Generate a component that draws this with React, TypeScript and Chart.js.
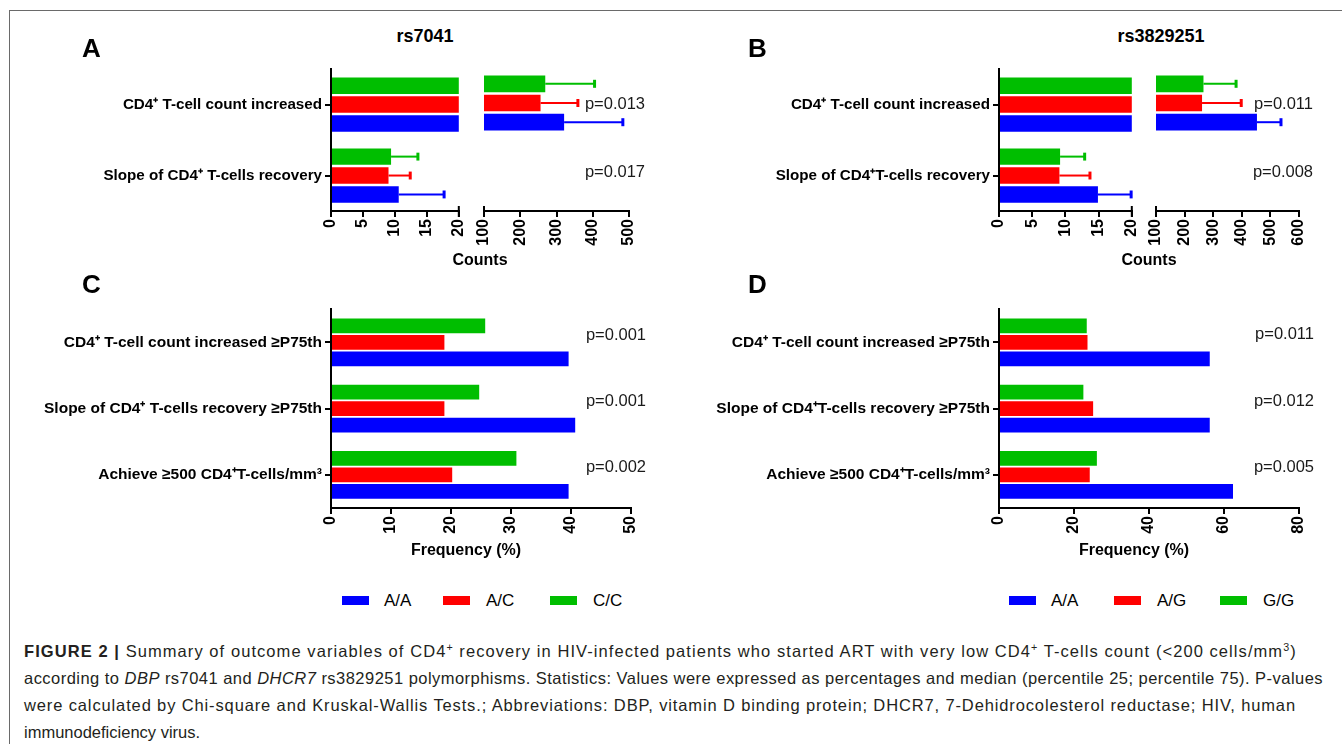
import React, { useEffect, useLayoutEffect, useRef } from 'react';
import { Chart, registerables } from 'chart.js';
Chart.register(...registerables);

const FONT = 'Arial, "Liberation Sans", Helvetica, sans-serif';
const BLUE = '#0000FF';
const RED = '#FF0000';
const GREEN = '#00BE00';

// ---------- Panel A: rs7041 (median, percentile 75) ----------
const catsA = ['CD4⁺ T-cell count increased', 'Slope of CD4⁺ T-cells recovery'];
const rs7041_AA_median = [321, 10.6];
const rs7041_AA_p75 = [483, 17.7];
const rs7041_AC_median = [256, 9.0];
const rs7041_AC_p75 = [359, 12.4];
const rs7041_CC_median = [269, 9.4];
const rs7041_CC_p75 = [405, 13.6];
const pValuesA = ['p=0.013', 'p=0.017'];

// ---------- Panel B: rs3829251 (median, percentile 75) ----------
const catsB = ['CD4⁺ T-cell count increased', 'Slope of CD4⁺T-cells recovery'];
const rs3829251_AA_median = [453, 14.9];
const rs3829251_AA_p75 = [537, 19.9];
const rs3829251_AG_median = [261, 9.1];
const rs3829251_AG_p75 = [398, 13.7];
const rs3829251_GG_median = [266, 9.2];
const rs3829251_GG_p75 = [380, 12.9];
const pValuesB = ['p=0.011', 'p=0.008'];

// ---------- Panel C: rs7041 frequencies (%) ----------
const catsC = ['CD4⁺ T-cell count increased ≥P75th', 'Slope of CD4⁺ T-cells recovery ≥P75th', 'Achieve ≥500 CD4⁺T-cells/mm³'];
const freqC_AA = [39.6, 40.7, 39.6];
const freqC_AC = [18.9, 18.9, 20.2];
const freqC_CC = [25.7, 24.7, 30.9];
const pValuesC = ['p=0.001', 'p=0.001', 'p=0.002'];

// ---------- Panel D: rs3829251 frequencies (%) ----------
const catsD = ['CD4⁺ T-cell count increased ≥P75th', 'Slope of CD4⁺T-cells recovery ≥P75th', 'Achieve ≥500 CD4⁺T-cells/mm³'];
const freqD_AA = [56.2, 56.2, 62.4];
const freqD_AG = [23.6, 25.1, 24.2];
const freqD_GG = [23.4, 22.5, 26.1];
const pValuesD = ['p=0.011', 'p=0.012', 'p=0.005'];

// ---------- Tick values ----------
const countTicksLow = [0, 5, 10, 15, 20];
const countTicksHighA = [100, 200, 300, 400, 500];
const countTicksHighB = [100, 200, 300, 400, 500, 600];
const freqTicksC = [0, 10, 20, 30, 40, 50];
const freqTicksD = [0, 20, 40, 60, 80];

const legendA = ['A/A', 'A/C', 'C/C'];
const legendB = ['A/A', 'A/G', 'G/G'];

type Series = { label: string; data: number[]; p75?: number[]; color: string };
type Spec = {
  x: number; y: number; w: number; h: number;
  pad: { left: number; top: number; right: number; bottom: number };
  yWidth: number; showY: boolean; labelSize: number;
  labels: string[]; series: Series[];
  xMin: number; xMax: number; xTicks: number[];
  catPct: number; barPct: number;
  pvals?: string[]; pOff?: number[]; pDx?: number;
  capLeft?: boolean; capRight?: boolean;
};

const errorBars = {
  id: 'errorBars',
  afterDatasetsDraw(chart: any) {
    const ctx = chart.ctx;
    const xs = chart.scales.x;
    const area = chart.chartArea;
    chart.data.datasets.forEach((ds: any, di: number) => {
      if (!ds.p75) return;
      const meta = chart.getDatasetMeta(di);
      ds.data.forEach((v: number, i: number) => {
        const hi = ds.p75[i];
        if (v < xs.min || hi > xs.max) return;
        const bar = meta.data[i];
        const x0 = xs.getPixelForValue(v);
        const x1 = xs.getPixelForValue(hi);
        const y = bar.y;
        const h = bar.height;
        ctx.save();
        ctx.strokeStyle = ds.backgroundColor;
        ctx.lineWidth = 2;
        ctx.beginPath();
        ctx.moveTo(Math.max(x0, area.left), y);
        ctx.lineTo(x1, y);
        ctx.stroke();
        ctx.lineWidth = 3;
        ctx.beginPath();
        ctx.moveTo(x1, y - h * 0.24);
        ctx.lineTo(x1, y + h * 0.24);
        ctx.stroke();
        ctx.restore();
      });
    });
  },
};

function makeDecor(spec: Spec) {
  return {
    id: 'decor',
    afterDraw(chart: any) {
      const ctx = chart.ctx;
      const a = chart.chartArea;
      ctx.save();
      ctx.strokeStyle = '#000';
      ctx.lineWidth = 2;
      if (spec.capRight) {
        ctx.beginPath();
        ctx.moveTo(a.right, a.bottom - 5);
        ctx.lineTo(a.right, a.bottom + 6);
        ctx.stroke();
      }
      if (spec.capLeft) {
        ctx.beginPath();
        ctx.moveTo(a.left, a.bottom - 5);
        ctx.lineTo(a.left, a.bottom + 6);
        ctx.stroke();
      }
      if (spec.pvals) {
        const ys = chart.scales.y;
        ctx.fillStyle = '#1a1a1a';
        ctx.font = `16.5px ${FONT}`;
        ctx.textAlign = 'right';
        ctx.textBaseline = 'middle';
        spec.pvals.forEach((t, i) => {
          const off = spec.pOff ? spec.pOff[i] : 0;
          ctx.fillText(t, a.right + (spec.pDx || 15), ys.getPixelForValue(i) + off);
        });
      }
      ctx.restore();
    },
  };
}

function buildConfig(spec: Spec): any {
  return {
    type: 'bar',
    data: {
      labels: spec.labels,
      datasets: spec.series.map((s) => ({
        label: s.label,
        data: s.data,
        p75: s.p75,
        backgroundColor: s.color,
        borderWidth: 0,
        categoryPercentage: spec.catPct,
        barPercentage: spec.barPct,
      })),
    },
    options: {
      indexAxis: 'y',
      responsive: false,
      animation: false,
      devicePixelRatio: 1,
      layout: { padding: spec.pad },
      plugins: { legend: { display: false }, tooltip: { enabled: false }, title: { display: false } },
      scales: {
        x: {
          type: 'linear',
          min: spec.xMin,
          max: spec.xMax,
          afterBuildTicks: (s: any) => {
            s.ticks = spec.xTicks.map((v) => ({ value: v }));
          },
          afterFit: (s: any) => {
            s.height = 40;
          },
          ticks: {
            autoSkip: false,
            minRotation: 90,
            maxRotation: 90,
            padding: 2,
            color: '#000',
            font: { family: FONT, size: 16, weight: 'bold' },
          },
          grid: { drawOnChartArea: false, drawTicks: true, tickLength: 6, color: '#000', lineWidth: 2 },
          border: { display: true, color: '#000', width: 2 },
        },
        y: {
          type: 'category',
          display: spec.showY,
          offset: true,
          afterFit: (s: any) => {
            s.width = spec.yWidth;
          },
          ticks: {
            padding: 3,
            color: '#000',
            font: { family: FONT, size: spec.labelSize, weight: 'bold' },
          },
          grid: { offset: false, drawOnChartArea: false, drawTicks: true, tickLength: 6, color: '#000', lineWidth: 2 },
          border: { display: true, color: '#000', width: 2 },
        },
      },
    },
    plugins: [errorBars, makeDecor(spec)],
  };
}

function BarPanel({ spec }: { spec: Spec }) {
  const ref = useRef<HTMLCanvasElement | null>(null);
  useEffect(() => {
    const chart = new Chart(ref.current as HTMLCanvasElement, buildConfig(spec));
    return () => chart.destroy();
  }, []);
  return (
    <canvas
      ref={ref}
      width={spec.w}
      height={spec.h}
      style={{ position: 'absolute', left: spec.x, top: spec.y, width: spec.w, height: spec.h }}
    />
  );
}

const seriesA: Series[] = [
  { label: 'C/C', data: rs7041_CC_median, p75: rs7041_CC_p75, color: GREEN },
  { label: 'A/C', data: rs7041_AC_median, p75: rs7041_AC_p75, color: RED },
  { label: 'A/A', data: rs7041_AA_median, p75: rs7041_AA_p75, color: BLUE },
];
const seriesB: Series[] = [
  { label: 'G/G', data: rs3829251_GG_median, p75: rs3829251_GG_p75, color: GREEN },
  { label: 'A/G', data: rs3829251_AG_median, p75: rs3829251_AG_p75, color: RED },
  { label: 'A/A', data: rs3829251_AA_median, p75: rs3829251_AA_p75, color: BLUE },
];
const seriesC: Series[] = [
  { label: 'C/C', data: freqC_CC, color: GREEN },
  { label: 'A/C', data: freqC_AC, color: RED },
  { label: 'A/A', data: freqC_AA, color: BLUE },
];
const seriesD: Series[] = [
  { label: 'G/G', data: freqD_GG, color: GREEN },
  { label: 'A/G', data: freqD_AG, color: RED },
  { label: 'A/A', data: freqD_AA, color: BLUE },
];

const specs: Spec[] = [
  // A left (0-20)
  {
    x: 10, y: 57, w: 470, h: 199, pad: { left: 0, top: 10, right: 12, bottom: 5 }, yWidth: 321, showY: true, labelSize: 15.2,
    labels: catsA, series: seriesA, xMin: 0, xMax: 20, xTicks: countTicksLow, catPct: 0.8, barPct: 0.87, capRight: true,
  },
  // A right (100-500)
  {
    x: 474, y: 57, w: 186, h: 199, pad: { left: 10, top: 10, right: 31, bottom: 5 }, yWidth: 0, showY: false, labelSize: 15.2,
    labels: catsA, series: seriesA, xMin: 100, xMax: 500, xTicks: countTicksHighA, catPct: 0.8, barPct: 0.87, capLeft: true,
    pvals: pValuesA, pOff: [1, -3], pDx: 16,
  },
  // B left
  {
    x: 680, y: 57, w: 473, h: 199, pad: { left: 0, top: 10, right: 12, bottom: 5 }, yWidth: 319, showY: true, labelSize: 15.2,
    labels: catsB, series: seriesB, xMin: 0, xMax: 20, xTicks: countTicksLow, catPct: 0.8, barPct: 0.87, capRight: true,
  },
  // B right
  {
    x: 1146, y: 57, w: 194, h: 199, pad: { left: 10, top: 10, right: 41, bottom: 5 }, yWidth: 0, showY: false, labelSize: 15.2,
    labels: catsB, series: seriesB, xMin: 100, xMax: 600, xTicks: countTicksHighB, catPct: 0.8, barPct: 0.87, capLeft: true,
    pvals: pValuesB, pOff: [1, -3], pDx: 14,
  },
  // C
  {
    x: 10, y: 297, w: 651, h: 256, pad: { left: 0, top: 10, right: 30, bottom: 5 }, yWidth: 321, showY: true, labelSize: 15.5,
    labels: catsC, series: seriesC, xMin: 0, xMax: 50, xTicks: freqTicksC, catPct: 0.75, barPct: 0.89,
    pvals: pValuesC, pOff: [-7, -7, -7], pDx: 15,
  },
  // D
  {
    x: 680, y: 297, w: 649, h: 256, pad: { left: 0, top: 10, right: 30, bottom: 5 }, yWidth: 319, showY: true, labelSize: 15.5,
    labels: catsD, series: seriesD, xMin: 0, xMax: 80, xTicks: freqTicksD, catPct: 0.75, barPct: 0.89,
    pvals: pValuesD, pOff: [-7.5, -7.5, -7.5], pDx: 15,
  },
];

function Txt(props: { x: number; y: number; size: number; bold?: boolean; center?: boolean; children: any }) {
  const { x, y, size, bold, center, children } = props;
  return (
    <div
      style={{
        position: 'absolute', left: x, top: y - size * 0.5, fontSize: size, lineHeight: 1,
        fontWeight: bold ? 700 : 400, fontFamily: FONT, whiteSpace: 'nowrap', color: '#000',
        transform: center ? 'translateX(-50%)' : undefined,
      }}
    >
      {children}
    </div>
  );
}

function Legend({ labels, boxX, textX, y }: { labels: string[]; boxX: number[]; textX: number[]; y: number }) {
  const colors = [BLUE, RED, GREEN];
  return (
    <>
      {labels.map((l, i) => (
        <React.Fragment key={l}>
          <div style={{ position: 'absolute', left: boxX[i], top: y - 4.5, width: 27, height: 9, background: colors[i] }} />
          <Txt x={textX[i]} y={y} size={17}>{l}</Txt>
        </React.Fragment>
      ))}
    </>
  );
}

const sup = (t: string) => <sup style={{ fontSize: '0.65em', lineHeight: 0, verticalAlign: '0.55em' }}>{t}</sup>;

function CaptionLine({ y, target, children }: { y: number; target?: number; children: any }) {
  const ref = useRef<HTMLSpanElement | null>(null);
  useLayoutEffect(() => {
    const el = ref.current;
    if (!el || !target) return;
    el.style.letterSpacing = '0px';
    const w = el.offsetWidth;
    const n = (el.textContent || '').length;
    el.style.letterSpacing = `${(target - w) / n}px`;
  }, []);
  return (
    <span
      ref={ref}
      style={{
        position: 'absolute', left: 24, top: y - 10, display: 'inline-block', whiteSpace: 'nowrap',
        fontSize: 16.5, lineHeight: '20px', fontFamily: FONT, color: '#231F20',
      }}
    >
      {children}
    </span>
  );
}

export default function App() {
  return (
    <div style={{ position: 'absolute', left: 0, top: 0, width: 1342, height: 744, background: '#fff', overflow: 'hidden' }}>
      <div style={{ position: 'absolute', left: 9, top: 10, width: 1340, height: 740, borderTop: '1px solid #6a6a6a', borderLeft: '1px solid #6a6a6a' }} />
      {specs.map((s, i) => (
        <BarPanel key={i} spec={s} />
      ))}
      <Txt x={82} y={48} size={26} bold>A</Txt>
      <Txt x={748} y={48} size={26} bold>B</Txt>
      <Txt x={82} y={284} size={26} bold>C</Txt>
      <Txt x={748} y={284} size={26} bold>D</Txt>
      <Txt x={425} y={36} size={18} bold center>rs7041</Txt>
      <Txt x={1161} y={36} size={18} bold center>rs3829251</Txt>
      <Txt x={480} y={260} size={16} bold center>Counts</Txt>
      <Txt x={1149} y={260} size={16} bold center>Counts</Txt>
      <Txt x={466} y={550} size={16} bold center>Frequency (%)</Txt>
      <Txt x={1134} y={550} size={16} bold center>Frequency (%)</Txt>
      <Legend labels={legendA} boxX={[342, 443, 550]} textX={[384, 486, 593]} y={600} />
      <Legend labels={legendB} boxX={[1009, 1114, 1220]} textX={[1051, 1157, 1263]} y={600} />
      <CaptionLine y={651} target={1273}>
        <b>FIGURE 2 |</b> Summary of outcome variables of CD4{sup('+')} recovery in HIV-infected patients who started ART with very low CD4{sup('+')} T-cells count (&lt;200 cells/mm{sup('3')})
      </CaptionLine>
      <CaptionLine y={678} target={1299}>
        according to <i>DBP</i> rs7041 and <i>DHCR7</i> rs3829251 polymorphisms. Statistics: Values were expressed as percentages and median (percentile 25; percentile 75). P-values
      </CaptionLine>
      <CaptionLine y={705} target={1272}>
        were calculated by Chi-square and Kruskal-Wallis Tests.; Abbreviations: DBP, vitamin D binding protein; DHCR7, 7-Dehidrocolesterol reductase; HIV, human
      </CaptionLine>
      <CaptionLine y={732}>immunodeficiency virus.</CaptionLine>
    </div>
  );
}
